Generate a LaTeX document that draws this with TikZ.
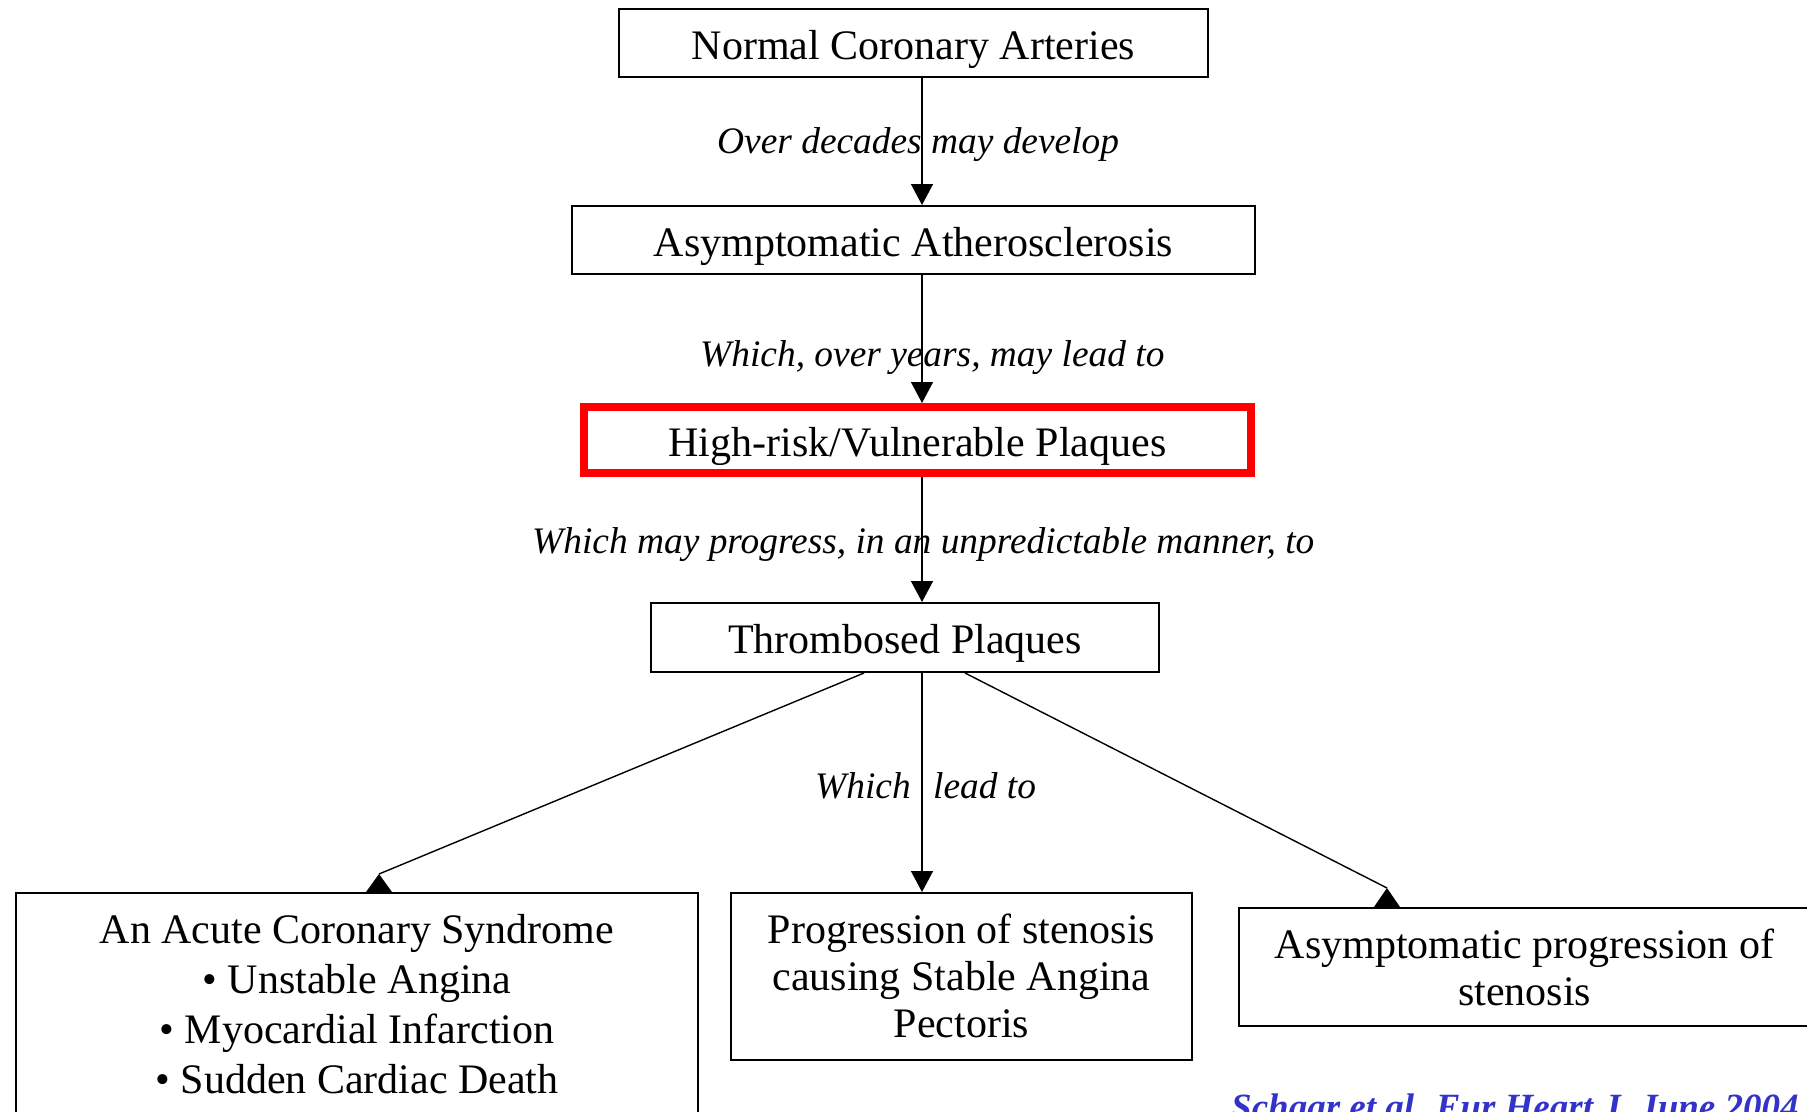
\documentclass[tikz,border=0pt]{standalone}
\usepackage{fontspec}
\setmainfont{Liberation Serif}
\usetikzlibrary{arrows.meta,calc}
\definecolor{citeblue}{RGB}{51,51,204}
\definecolor{hired}{RGB}{255,0,0}
\begin{document}
\begin{tikzpicture}[x=1pt,y=-1pt,
  boxnode/.style={draw,line width=2pt,inner sep=0pt,font=\fontsize{42}{50}\selectfont,text height=34pt,text depth=2pt},
  lbl/.style={font=\fontsize{37.4}{44}\selectfont\itshape,anchor=base west,inner sep=0pt},
  txtline/.style={anchor=base,inner sep=0pt,font=\fontsize{42}{50}\selectfont},
  conn/.style={line width=1.4pt},
  arr/.style={conn,-{Triangle[width=22pt,length=21pt]}},
]
\useasboundingbox (0,0) rectangle (1807,1111);
\fill[white] (0,0) rectangle (1807,1111);
\coordinate (spine) at (922,0);

% boxes
\node[boxnode,minimum width=589pt,minimum height=68pt] (nca) at (913.5,43) {Normal Coronary Arteries};
\node[boxnode,minimum width=683pt,minimum height=68pt] (asa) at (913.5,240) {Asymptomatic Atherosclerosis};
\node[boxnode,draw=hired,line width=8pt,minimum width=667pt,minimum height=66pt] (hrp) at (917.5,440) {High-risk/Vulnerable Plaques};
\node[boxnode,minimum width=508pt,minimum height=69pt] (thr) at (905,637.5) {Thrombosed Plaques};
\node[boxnode,minimum width=682pt,minimum height=247pt] (acs) at (357,1016.5) {};
\node[boxnode,minimum width=461pt,minimum height=167pt] (mid) at (961.5,976.5) {};
\node[boxnode,minimum width=571pt,minimum height=118pt] (rgt) at (1524.5,967) {};

% multi-line box texts
\node[txtline] (acs1) at (357,943) {An Acute Coronary Syndrome};
\node[txtline] (acs2) at (357,993) {• Unstable Angina};
\node[txtline] (acs3) at (357,1043) {• Myocardial Infarction};
\node[txtline] (acs4) at (357,1093) {• Sudden Cardiac Death};
\node[txtline] (mid1) at (961.5,943) {Progression of stenosis};
\node[txtline] (mid2) at (961.5,990) {causing Stable Angina};
\node[txtline] (mid3) at (961.5,1037) {Pectoris};
\node[txtline] (rgt1) at (1524.5,958) {Asymptomatic progression of};
\node[txtline] (rgt2) at (1524.5,1005) {stenosis};

% labels
\node[lbl] (l1) at (717,153) {Over decades may develop};
\node[lbl] (l2) at (700,366.5) {Which, over years, may lead to};
\node[lbl] (l3) at (532,553) {Which may progress, in an unpredictable manner, to};
\node[lbl] (l4) at (815,798) {Which\hspace{0.6em}lead to};

% vertical connectors
\draw[arr] (nca.south -| spine) -- (asa.north -| spine);
\draw[arr] (asa.south -| spine) -- (hrp.north -| spine);
\draw[arr] (hrp.south -| spine) -- (thr.north -| spine);
\draw[arr] (thr.south -| spine) -- (mid.north -| spine);

% diagonal connectors
\coordinate (tipL) at ([xshift=22pt,yshift=18pt]acs.north);
\draw[conn] ([xshift=-41pt]thr.south) -- (tipL);
\fill (tipL) -- ++(-13,18) -- ++(26,0) -- cycle;
\coordinate (tipR) at ([xshift=-137.5pt,yshift=19pt]rgt.north);
\draw[conn] ([xshift=60pt]thr.south) -- (tipR);
\fill (tipR) -- ++(-13,19) -- ++(26,0) -- cycle;

% citation (cut by the lower edge, as in the reference)
\node[anchor=base west,inner sep=0pt,font=\fontsize{37}{44}\selectfont\bfseries\itshape,text=citeblue] (cite) at (1231,1119.5) {Schaar et al. Eur Heart J. June 2004};
\end{tikzpicture}
\end{document}
